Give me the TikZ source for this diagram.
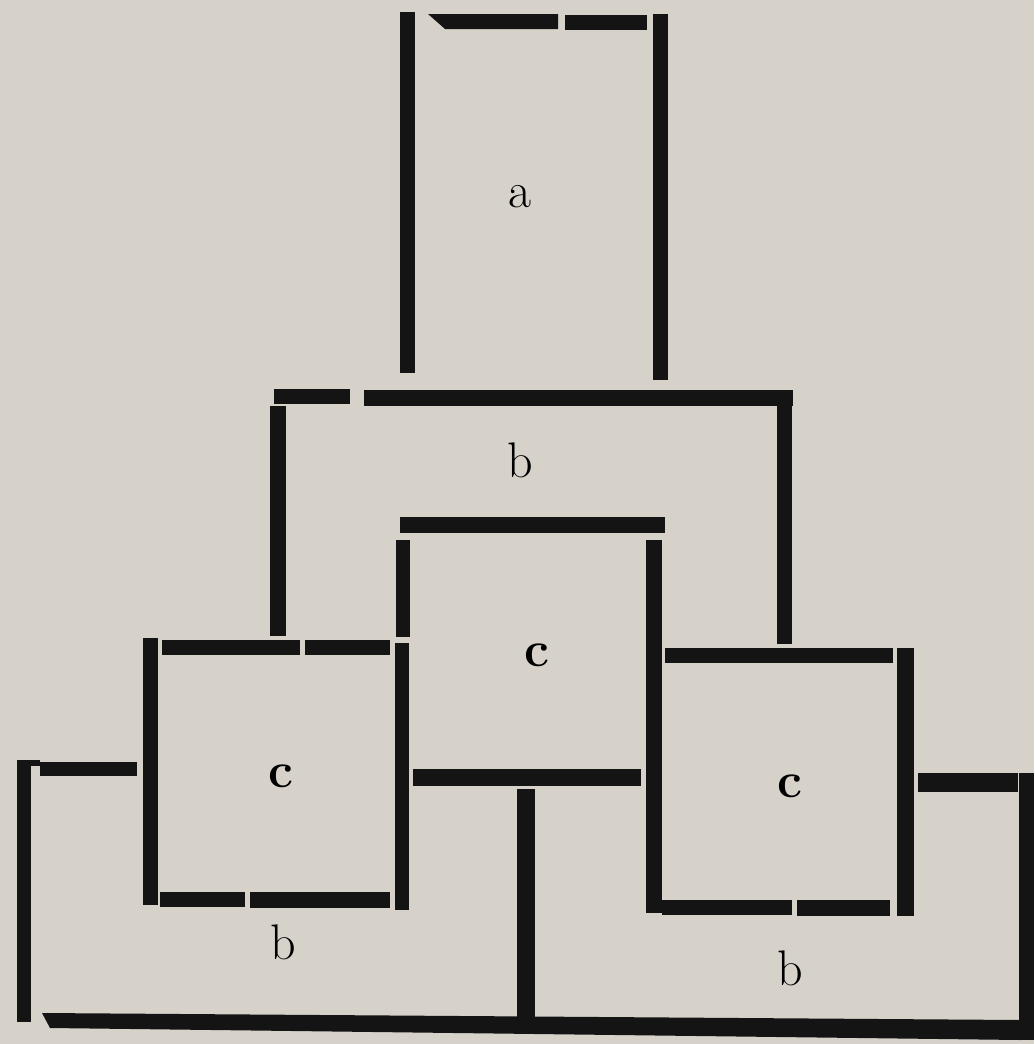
\documentclass[tikz,border=0pt]{standalone}
\begin{document}
\begin{tikzpicture}[x=1pt,y=-1pt,
  bar/.style={fill=black!92},
  lbl/.style={font=\fontsize{50}{50}\selectfont, inner sep=0pt},
  lblc/.style={font=\fontsize{50}{50}\selectfont\bfseries, inner sep=0pt}]
\fill[fill={rgb,255:red,214;green,210;blue,202}] (0,0) rectangle (1034,1044);
\useasboundingbox (0,0) rectangle (1034,1044);
% box a
\fill[bar] (400,12) rectangle (415,373);
\fill[bar] (653,14) rectangle (668,380);
\fill[bar] (428,14) -- (558,14) -- (558,29) -- (445,29) -- cycle;
\fill[bar] (565,15) rectangle (647,30);
% upper b
\fill[bar] (274,389) rectangle (350,404);
\fill[bar] (364,390) rectangle (793,406);
\fill[bar] (777,406) rectangle (792,644);
\fill[bar] (270,406) rectangle (286,636);
% central c
\fill[bar] (400,517) rectangle (665,533);
\fill[bar] (396,540) rectangle (410,637);
\fill[bar] (646,540) rectangle (662,913);
% left c
\fill[bar] (162,640) rectangle (300,655);
\fill[bar] (305,640) rectangle (390,655);
\fill[bar] (143,638) rectangle (158,905);
\fill[bar] (160,892) rectangle (245,907);
\fill[bar] (250,892) rectangle (390,908);
\fill[bar] (395,643) rectangle (409,910);
% right c
\fill[bar] (665,648) rectangle (893,663);
\fill[bar] (897,648) rectangle (914,916);
\fill[bar] (662,900) rectangle (792,915);
\fill[bar] (797,900) rectangle (890,916);
% lower b
\fill[bar] (17,760) rectangle (31,1022);
\fill[bar] (31,760) rectangle (40,766);
\fill[bar] (40,762) rectangle (137,776);
\fill[bar] (413,769) rectangle (641,786);
\fill[bar] (517,789) rectangle (535,1020);
\fill[bar] (918,773) rectangle (1018,792);
\fill[bar] (1019,773) rectangle (1034,1040);
\fill[bar] (42,1013) -- (1020,1020) -- (1020,1040) -- (50,1028) -- cycle;
% labels
\node[lbl] (la) at (520,197) {a};
\node[lbl] (lb1) at (520,460) {b};
\node[lblc] (lc1) at (537,655) {c};
\node[lblc] (lc2) at (281,776) {c};
\node[lblc] (lc3) at (790,786) {c};
\node[lbl] (lb2) at (283,942) {b};
\node[lbl] (lb3) at (790,968) {b};
\end{tikzpicture}
\end{document}
